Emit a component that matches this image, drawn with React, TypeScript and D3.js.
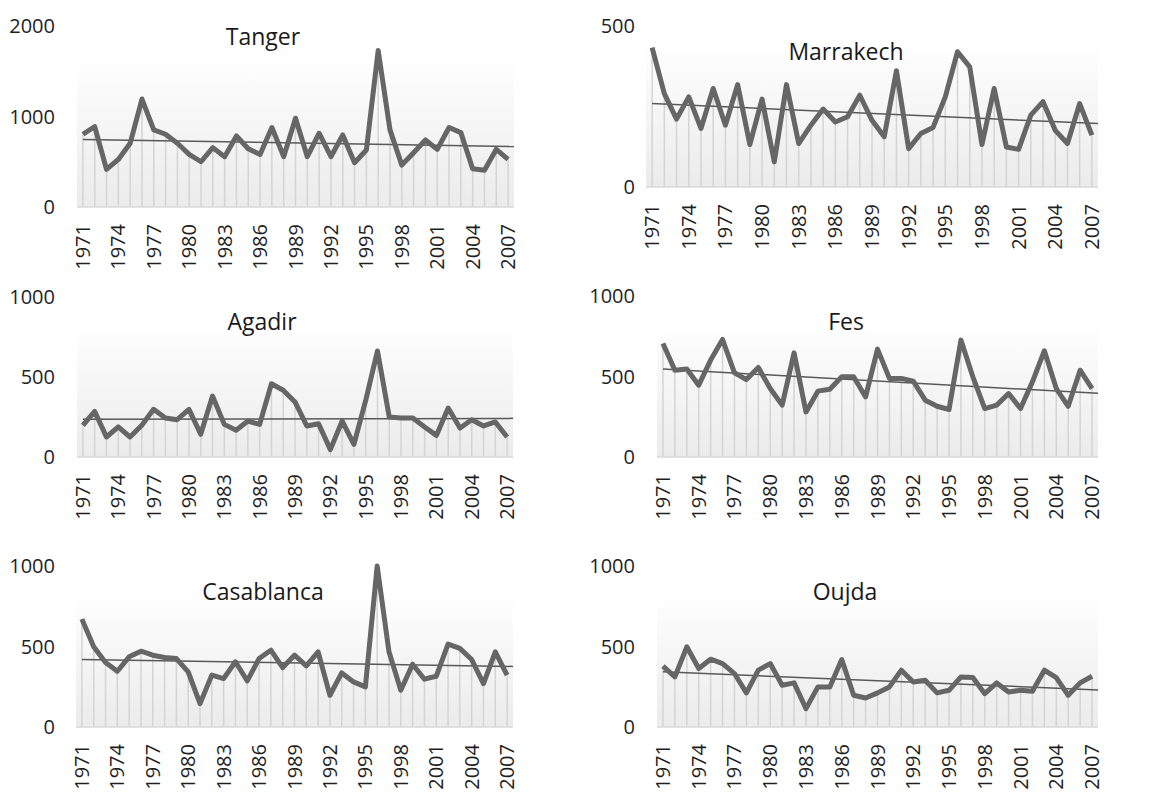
import React from "react";
import * as d3 from "d3";

const years = [
  1971, 1972, 1973, 1974, 1975, 1976, 1977, 1978, 1979, 1980, 1981, 1982, 1983,
  1984, 1985, 1986, 1987, 1988, 1989, 1990, 1991, 1992, 1993, 1994, 1995, 1996,
  1997, 1998, 1999, 2000, 2001, 2002, 2003, 2004, 2005, 2006, 2007,
];
const labelYears = [1971, 1974, 1977, 1980, 1983, 1986, 1989, 1992, 1995, 1998, 2001, 2004, 2007];

const tanger = [
  804, 889, 415, 526, 704, 1193, 852, 804, 704, 581, 500, 656, 556, 785, 644, 581, 878, 556,
  981, 556, 815, 556, 796, 489, 630, 1730, 852, 463, 600, 741, 637, 878, 822, 422, 407, 637, 526,
];
const marrakech = [
  433, 290, 211, 280, 182, 306, 192, 318, 132, 273, 78, 318, 135, 192, 242, 202, 218, 285,
  207, 156, 361, 119, 166, 185, 280, 420, 373, 132, 306, 124, 117, 223, 265, 176, 135, 259, 161,
];
const agadir = [
  198, 285, 125, 188, 125, 198, 298, 244, 233, 298, 142, 381, 204, 167, 225, 204, 458, 417,
  344, 194, 208, 46, 225, 79, 354, 663, 250, 244, 244, 188, 135, 306, 181, 233, 194, 219, 125,
];
const fes = [
  705, 539, 546, 446, 602, 730, 523, 481, 556, 425, 322, 647, 280, 409, 421, 498, 498, 373,
  670, 488, 488, 471, 353, 315, 295, 726, 498, 301, 322, 394, 301, 467, 660, 425, 315, 539, 425,
];
const casablanca = [
  670, 498, 400, 346, 436, 471, 446, 432, 425, 342, 145, 322, 301, 405, 286, 425, 477, 369,
  446, 380, 467, 197, 336, 280, 249, 1000, 467, 228, 390, 297, 315, 515, 488, 419, 270, 467, 322,
];
const oujda = [
  378, 311, 498, 363, 421, 394, 332, 212, 353, 394, 259, 274, 114, 249, 249, 419, 197, 180,
  212, 249, 353, 280, 290, 212, 228, 311, 307, 207, 274, 218, 228, 222, 353, 307, 197, 274, 315,
];

const tangerTicks = [0, 1000, 2000];
const marrakechTicks = [0, 500];
const thousandTicks = [0, 500, 1000];

const FONT = "'Open Sans', 'Liberation Sans', sans-serif";

type Panel = {
  title: string;
  values: number[];
  ticks: number[];
  yMax: number;
  x0: number;
  x1: number;
  base: number;
  top: number; // pixel where yMax sits
  bgTop: number;
  labelRight: number;
  titleX: number;
  titleY: number;
};

const panels: Panel[] = [
  { title: "Tanger", values: tanger, ticks: tangerTicks, yMax: 2000, x0: 77, x1: 514, base: 207, top: 26, bgTop: 55, labelRight: 55, titleX: 263, titleY: 37 },
  { title: "Marrakech", values: marrakech, ticks: marrakechTicks, yMax: 500, x0: 646, x1: 1098, base: 187, top: 26, bgTop: 42, labelRight: 635, titleX: 846, titleY: 52 },
  { title: "Agadir", values: agadir, ticks: thousandTicks, yMax: 1000, x0: 77, x1: 513, base: 457, top: 297, bgTop: 323, labelRight: 55, titleX: 262, titleY: 322 },
  { title: "Fes", values: fes, ticks: thousandTicks, yMax: 1000, x0: 657, x1: 1098, base: 457, top: 296, bgTop: 323, labelRight: 635, titleX: 846, titleY: 322 },
  { title: "Casablanca", values: casablanca, ticks: thousandTicks, yMax: 1000, x0: 76, x1: 513, base: 727, top: 566, bgTop: 593, labelRight: 55, titleX: 263, titleY: 592 },
  { title: "Oujda", values: oujda, ticks: thousandTicks, yMax: 1000, x0: 657, x1: 1098, base: 727, top: 566, bgTop: 593, labelRight: 635, titleX: 845, titleY: 592 },
];

// least squares trend, same as the spreadsheet's linear trendline
function trend(values: number[]) {
  const xs = values.map((_, i) => i + 1);
  const mx = d3.mean(xs)!;
  const my = d3.mean(values)!;
  let num = 0;
  let den = 0;
  xs.forEach((x, i) => {
    num += (x - mx) * (values[i] - my);
    den += (x - mx) * (x - mx);
  });
  const slope = num / den;
  return (x: number) => my + slope * (x - mx);
}

function ChartPanel({ p, idx }: { p: Panel; idx: number }) {
  const x = d3.scaleBand<number>().domain(years).range([p.x0, p.x1]);
  const cx = (yr: number) => (x(yr) ?? 0) + x.bandwidth() / 2;
  const y = d3.scaleLinear().domain([0, p.yMax]).range([p.base, p.top]);

  const line = d3
    .line<number>()
    .x((_, i) => cx(years[i]))
    .y((d) => y(d));

  const fit = trend(p.values);
  const gid = `bg${idx}`;

  return (
    <g>
      <defs>
        <linearGradient id={gid} x1="0" y1="0" x2="0" y2="1">
          <stop offset="0" stopColor="#ffffff" />
          <stop offset="1" stopColor="#ebebeb" />
        </linearGradient>
      </defs>
      <rect x={p.x0} y={p.bgTop} width={p.x1 - p.x0} height={p.base - p.bgTop} fill={`url(#${gid})`} />
      {p.values.map((v, i) => (
        <line
          key={i}
          x1={cx(years[i])}
          x2={cx(years[i])}
          y1={y(0)}
          y2={y(v)}
          stroke="#d4d4d4"
          strokeWidth={1.5}
        />
      ))}
      <line x1={p.x0} x2={p.x1} y1={y(0)} y2={y(0)} stroke="#d9d9d9" strokeWidth={1.5} />
      <line
        x1={cx(years[0])}
        x2={p.x1}
        y1={y(fit(1))}
        y2={y(fit(years.length + 0.5))}
        stroke="#595959"
        strokeWidth={1.5}
      />
      <path d={line(p.values) ?? ""} fill="none" stroke="#666666" strokeWidth={5} strokeLinejoin="round" />
      {p.ticks.map((t) => (
        <text
          key={t}
          x={p.labelRight}
          y={y(t)}
          dy="0.35em"
          textAnchor="end"
          fontFamily={FONT}
          fontSize={20}
          fill="#1f1f1f"
        >
          {t}
        </text>
      ))}
      {labelYears.map((yr) => (
        <text
          key={yr}
          transform={`translate(${cx(yr)},${p.base + 17}) rotate(-90)`}
          dy="0.35em"
          textAnchor="end"
          fontFamily={FONT}
          fontSize={20}
          fill="#1f1f1f"
        >
          {yr}
        </text>
      ))}
      <text x={p.titleX} y={p.titleY} dy="0.35em" textAnchor="middle" fontFamily={FONT} fontSize={23} fill="#1a1a1a">
        {p.title}
      </text>
    </g>
  );
}

export default function App() {
  return (
    <svg
      width={1166}
      height={794}
      style={{ position: "absolute", left: 0, top: 0, background: "#fff" }}
    >
      {panels.map((p, i) => (
        <ChartPanel key={p.title} p={p} idx={i} />
      ))}
    </svg>
  );
}
